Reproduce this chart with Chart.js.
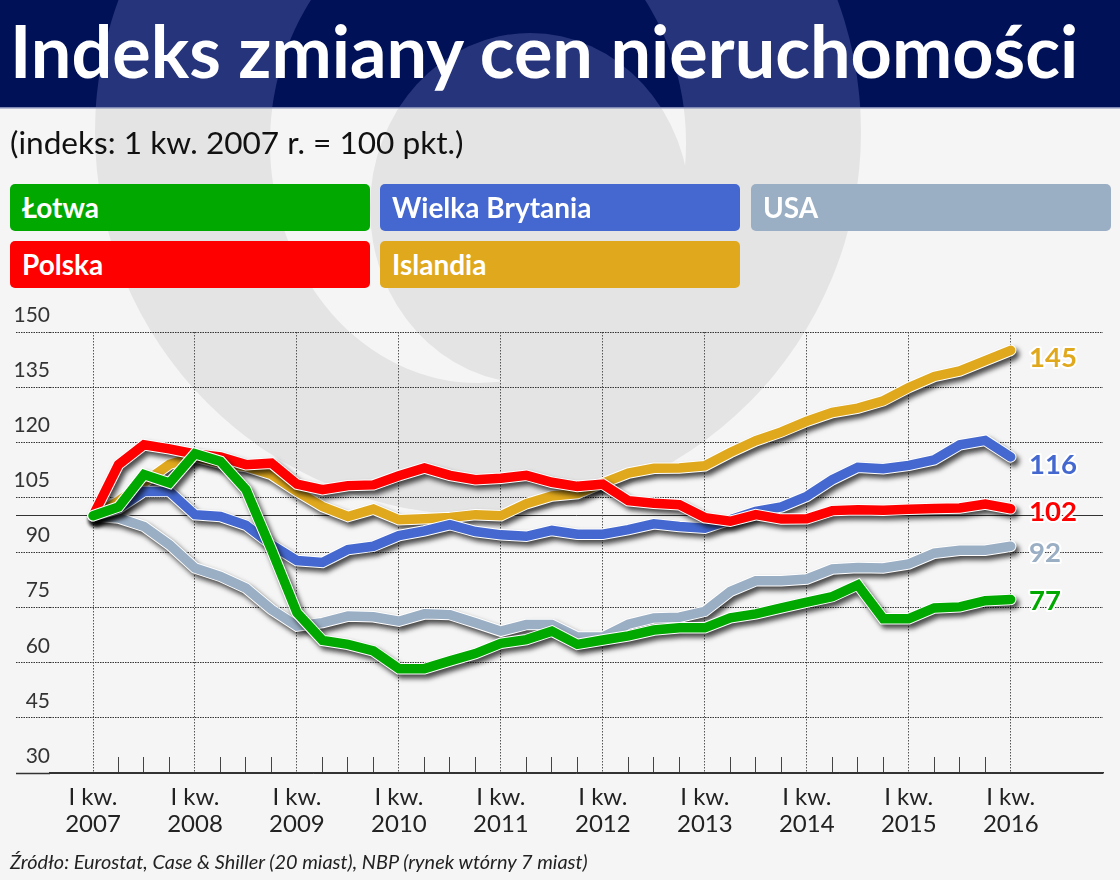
<!DOCTYPE html>
<html lang="pl">
<head>
<meta charset="utf-8">
<title>Indeks zmiany cen nieruchomości</title>
<script src="https://cdn.jsdelivr.net/npm/chart.js@4/dist/chart.umd.min.js"></script>
<style>
  html, body { margin: 0; padding: 0; background: #f5f5f5; }
  #page { position: relative; width: 1120px; height: 880px; overflow: hidden; font-family: Lato, sans-serif; }
  #logo, #chart { position: absolute; left: 0; top: 0; }
  #title { position: absolute; left: 10px; top: 4px; color: #fff; font-size: 72px; font-weight: 700; line-height: 92px; white-space: nowrap; }
  #subtitle { position: absolute; left: 10px; top: 122px; color: #111; font-size: 31.6px; line-height: 40px; white-space: nowrap; }
  #source { position: absolute; left: 10px; top: 848px; color: #222; font-size: 19.9px; font-style: italic; line-height: 26px; white-space: nowrap; }
  .key { position: absolute; width: 348px; height: 47px; padding-left: 12px; border-radius: 5px; color: #fff; font-size: 28px; font-weight: 700; line-height: 47px; }
</style>
</head>
<body>
<div id="page">
  <svg id="logo" width="1120" height="880">
    <defs><clipPath id="band"><rect x="0" y="0" width="1120" height="107"/></clipPath></defs>
    <rect x="0" y="0" width="1120" height="880" fill="#f5f5f5"/>
    <circle cx="478" cy="132" r="383" fill="#e4e4e4"/>
    <ellipse cx="478" cy="143" rx="208" ry="240" fill="#f5f5f5"/>
    <ellipse cx="530" cy="208" rx="160" ry="175" fill="#e4e4e4"/>
    <rect x="0" y="0" width="1120" height="107" fill="#001158"/>
    <g clip-path="url(#band)">
      <circle cx="478" cy="132" r="383" fill="#26347c"/>
      <ellipse cx="478" cy="143" rx="208" ry="240" fill="#001158"/>
      <ellipse cx="530" cy="208" rx="160" ry="175" fill="#26347c"/>
    </g>
    <rect x="0" y="107" width="1120" height="1.5" fill="#8088b4"/>
  </svg>
  <canvas id="chart" width="1120" height="880"></canvas>
  <div id="title">Indeks zmiany cen nieruchomości</div>
  <div id="subtitle">(indeks: 1 kw. 2007 r. = 100 pkt.)</div>
  <div class="key" style="left:10px;top:184px;background:#00a800">Łotwa</div>
  <div class="key" style="left:380px;top:184px;background:#4468cf">Wielka Brytania</div>
  <div class="key" style="left:751px;top:184px;background:#9aaec4">USA</div>
  <div class="key" style="left:10px;top:241px;background:#ff0000">Polska</div>
  <div class="key" style="left:380px;top:241px;background:#e0a81c">Islandia</div>
  <div id="source">Źródło: Eurostat, Case &amp; Shiller (20 miast), NBP (rynek wtórny 7 miast)</div>
</div>
<script>
(function () {
  'use strict';

  // Data
  const categories = [
    'I kw. 2007', 'II kw. 2007', 'III kw. 2007', 'IV kw. 2007',
    'I kw. 2008', 'II kw. 2008', 'III kw. 2008', 'IV kw. 2008',
    'I kw. 2009', 'II kw. 2009', 'III kw. 2009', 'IV kw. 2009',
    'I kw. 2010', 'II kw. 2010', 'III kw. 2010', 'IV kw. 2010',
    'I kw. 2011', 'II kw. 2011', 'III kw. 2011', 'IV kw. 2011',
    'I kw. 2012', 'II kw. 2012', 'III kw. 2012', 'IV kw. 2012',
    'I kw. 2013', 'II kw. 2013', 'III kw. 2013', 'IV kw. 2013',
    'I kw. 2014', 'II kw. 2014', 'III kw. 2014', 'IV kw. 2014',
    'I kw. 2015', 'II kw. 2015', 'III kw. 2015', 'IV kw. 2015',
    'I kw. 2016'
  ];
  const lotwa = [100, 102.4, 111.2, 108.9, 116.9, 114.8, 107.1, 90.8, 73.6, 66.1, 65, 63.2, 58.4, 58.4, 60.5, 62.5, 65.3, 66.3, 68.6, 65, 66.2, 67.3, 68.9, 69.5, 69.5, 72.2, 73.3, 74.9, 76.5, 78, 81.2, 72, 72, 74.9, 75.2, 76.9, 77.2];
  const polska = [100, 113.9, 119.3, 118.2, 116.8, 116, 113.9, 114.3, 108.6, 107.1, 108.2, 108.4, 110.9, 113, 111, 109.8, 110.2, 111, 109.1, 108, 108.6, 104.1, 103.4, 103, 99.5, 98.5, 100.3, 99.1, 99.2, 101.4, 101.6, 101.5, 101.8, 102, 102.1, 103.2, 101.9];
  const wielkaBrytania = [100, 102, 106.6, 106.6, 100.3, 99.8, 97.4, 92.1, 87.8, 87.3, 90.8, 91.7, 94.6, 95.9, 97.6, 95.7, 94.8, 94.4, 96, 95, 95, 96.2, 97.8, 97.1, 96.6, 98.9, 101.2, 102.4, 105.3, 109.8, 113.2, 112.8, 113.7, 115.2, 119.3, 120.5, 116];
  const islandia = [100, 104, 109, 114, 116, 114.3, 113.4, 111.2, 106.6, 102.5, 99.8, 101.8, 98.9, 99.2, 99.5, 100.3, 100, 103.3, 105.4, 106, 108.9, 111.6, 112.9, 113, 113.6, 117.2, 120.4, 122.8, 125.7, 128.1, 129.3, 131.3, 134.9, 137.9, 139.4, 142.2, 145];
  const usa = [100, 99.4, 97.1, 92.1, 85.8, 83.5, 80.3, 74.5, 70, 70.9, 72.7, 72.5, 71.3, 73.3, 73.1, 70.9, 68.6, 70.4, 70.4, 67, 67, 70.5, 72.2, 72.4, 74, 79.4, 82.3, 82.3, 82.8, 85.5, 85.9, 85.8, 86.9, 89.8, 90.6, 90.6, 91.7];
  const yTicks = [30, 45, 60, 75, 90, 105, 120, 135, 150];
  const baseLevel = 100;

  // First entry is drawn on top
  const series = [
    { name: 'Łotwa', values: lotwa, color: '#00a800', end: '77', endDy: 2 },
    { name: 'Polska', values: polska, color: '#ff0000', end: '102', endDy: 3 },
    { name: 'Wielka Brytania', values: wielkaBrytania, color: '#4468cf', end: '116', endDy: 8 },
    { name: 'Islandia', values: islandia, color: '#e0a81c', end: '145', endDy: 8 },
    { name: 'USA', values: usa, color: '#9aaec4', end: '92', endDy: 7 }
  ];

  function toPoints(values) {
    return values.map((v, i) => ({ x: i, y: v }));
  }

  function isYearStart(i) {
    return categories[i] !== undefined && categories[i].startsWith('I kw.');
  }

  function isSolidLevel(v) {
    return v === baseLevel || v === yTicks[0];
  }

  // Every series is a white casing with a drop shadow plus the coloured line on it
  const datasets = [];
  series.forEach(s => {
    datasets.push({ label: s.name, data: toPoints(s.values), borderColor: s.color, borderWidth: 9.5 });
    datasets.push({ label: s.name + ' (obrys)', data: toPoints(s.values), borderColor: '#ffffff', borderWidth: 11.5, casing: true });
  });

  const lineShadow = {
    id: 'lineShadow',
    beforeDatasetDraw(chart, args) {
      if (!chart.data.datasets[args.index].casing) return;
      const ctx = chart.ctx;
      ctx.save();
      ctx.shadowColor = 'rgba(0,0,0,0.7)';
      ctx.shadowBlur = 5;
      ctx.shadowOffsetX = 3;
      ctx.shadowOffsetY = 4;
    },
    afterDatasetDraw(chart, args) {
      if (chart.data.datasets[args.index].casing) chart.ctx.restore();
    }
  };

  const endLabels = {
    id: 'endLabels',
    afterDatasetsDraw(chart) {
      const ctx = chart.ctx;
      const yScale = chart.scales.y;
      ctx.save();
      ctx.font = '700 27.5px Lato';
      ctx.textBaseline = 'middle';
      ctx.lineJoin = 'round';
      ctx.lineWidth = 4;
      ctx.strokeStyle = '#ffffff';
      series.forEach(s => {
        const y = yScale.getPixelForValue(s.values[s.values.length - 1]) + s.endDy;
        ctx.strokeText(s.end, 1029, y);
        ctx.fillStyle = s.color;
        ctx.fillText(s.end, 1029, y);
      });
      ctx.restore();
    }
  };

  document.addEventListener('DOMContentLoaded', function () {
    new Chart(document.getElementById('chart').getContext('2d'), {
      type: 'line',
      data: { datasets },
      plugins: [lineShadow, endLabels],
      options: {
        responsive: false,
        animation: false,
        layout: { padding: { left: 12, right: 17, top: 332, bottom: 0 } },
        plugins: { legend: { display: false }, tooltip: { enabled: false } },
        elements: {
          point: { radius: 0 },
          line: { tension: 0, borderCapStyle: 'round', borderJoinStyle: 'miter', fill: false }
        },
        scales: {
          x: {
            type: 'linear',
            min: -1.687,
            max: 39.62,
            afterBuildTicks: axis => { axis.ticks = categories.map((c, i) => ({ value: i })); },
            afterFit: axis => { axis.height = 107; },
            border: { display: true, color: '#333', width: 1.5, dash: [1.5, 1.5] },
            grid: {
              color: ctx => isYearStart(ctx.tick.value) ? '#555' : 'transparent',
              lineWidth: 1,
              tickColor: ctx => isYearStart(ctx.tick.value) ? 'transparent' : '#444',
              tickWidth: 1,
              tickLength: -16
            },
            ticks: {
              autoSkip: false,
              maxRotation: 0,
              padding: 26,
              color: '#222',
              font: { family: 'Lato', size: 24, lineHeight: 1.15 },
              callback: value => isYearStart(value) ? categories[value].replace(/^(I kw\.) /, '$1\n').split('\n') : ''
            }
          },
          y: {
            min: 30,
            max: 150,
            afterBuildTicks: axis => {
              axis.ticks = yTicks.concat(baseLevel).sort((a, b) => a - b).map(v => ({ value: v }));
            },
            afterFit: axis => { axis.width = 38; },
            border: {
              display: false,
              dash: ctx => ctx.tick && isSolidLevel(ctx.tick.value) ? [] : [1.5, 1]
            },
            grid: {
              color: '#333',
              lineWidth: 1,
              tickLength: 34,
              tickColor: '#333',
              tickWidth: ctx => ctx.tick.value === yTicks[0] ? 1.5 : 1,
              tickBorderDash: ctx => isSolidLevel(ctx.tick.value) ? [] : [1.5, 1]
            },
            ticks: {
              autoSkip: false,
              padding: -34,
              labelOffset: -17,
              color: '#333',
              font: { family: 'Lato', size: 21 },
              callback: value => value === baseLevel ? '' : value
            }
          }
        }
      }
    });
  });
})();
</script>
</body>
</html>
